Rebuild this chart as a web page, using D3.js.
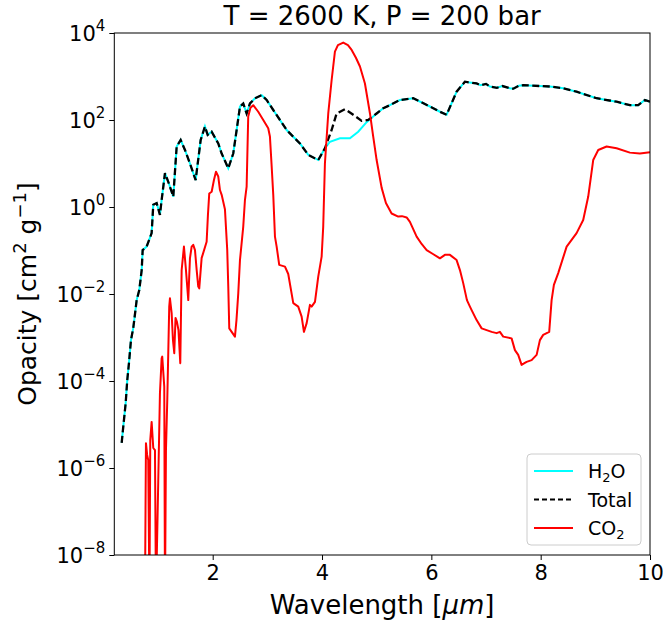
<!DOCTYPE html>
<html lang="en">
<head>
    <meta charset="UTF-8">
    <script src="https://d3js.org/d3.v7.min.js"></script>
    <title>Opacity</title>
    <style>
        body { margin: 0; background: white; }
        text { font-family: "DejaVu Sans", sans-serif; fill: black; }
    </style>
</head>
<body>
    <div class="fig"></div>
    <script>
        // wavelength [um] and log10 opacity [cm2 g-1]
        const h2o = [
            [0.335, -5.42], [0.364, -5.05], [0.408, -4.51], [0.437, -3.98], [0.468, -3.59], [0.505, -3.06],
            [0.547, -2.78], [0.565, -2.60], [0.609, -2.14], [0.657, -1.91], [0.701, -1.45], [0.719, -0.99],
            [0.792, -0.91], [0.883, -0.60], [0.913, 0.05], [0.975, 0.09], [1.035, -0.18], [1.066, 0.16],
            [1.127, 0.78], [1.187, 0.58], [1.279, 0.24], [1.341, 1.39], [1.414, 1.54], [1.493, 1.31],
            [1.584, 1.00], [1.688, 0.62], [1.780, 1.54], [1.858, 1.85], [1.908, 1.66], [1.981, 1.73],
            [2.102, 1.46], [2.164, 1.23], [2.285, 0.89], [2.376, 1.23], [2.438, 1.77], [2.499, 2.31],
            [2.559, 2.38], [2.621, 2.15], [2.682, 2.38], [2.773, 2.50], [2.896, 2.57], [2.987, 2.46],
            [3.108, 2.23], [3.353, 1.77], [3.596, 1.46], [3.748, 1.20], [3.931, 1.08], [4.053, 1.35],
            [4.145, 1.50], [4.328, 1.58], [4.511, 1.58], [4.662, 1.73], [4.816, 1.95], [4.999, 2.15],
            [5.120, 2.27], [5.242, 2.34], [5.425, 2.46], [5.669, 2.50], [5.974, 2.31], [6.157, 2.19],
            [6.279, 2.12], [6.462, 2.65], [6.614, 2.88], [6.828, 2.84], [6.90, 2.80], [7.00, 2.83],
            [7.072, 2.77], [7.20, 2.74], [7.30, 2.78], [7.437, 2.73], [7.50, 2.72], [7.60, 2.79],
            [7.681, 2.80], [8.169, 2.77], [8.412, 2.73], [8.657, 2.65], [9.023, 2.50], [9.389, 2.42],
            [9.632, 2.34], [9.784, 2.34], [9.907, 2.46], [10.0, 2.42]
        ];

        // total differs from water only in the CO2 band near 4.3 um
        const totalBand = [
            [4.176, 1.77], [4.267, 2.15], [4.419, 2.25], [4.571, 2.12], [4.725, 1.98], [4.845, 2.00]
        ];

        const co2 = [
            [0.755, -9], [0.761, -9], [0.779, -5.43], [0.801, -5.70], [0.821, -5.82], [0.843, -9],
            [0.858, -5.36], [0.883, -4.94], [0.913, -5.54], [0.944, -5.59], [0.962, -9], [1.004, -6.31],
            [1.035, -4.28], [1.066, -3.48], [1.077, -3.44], [1.114, -4.13], [1.127, -9], [1.145, -5.59],
            [1.169, -4.44], [1.187, -3.36], [1.205, -2.29], [1.218, -2.10], [1.249, -2.44], [1.273, -3.06],
            [1.297, -3.36], [1.320, -2.55], [1.346, -2.64], [1.374, -2.83], [1.407, -3.59], [1.432, -1.45],
            [1.474, -0.91], [1.511, -1.45], [1.553, -2.14], [1.584, -1.18], [1.615, -0.91], [1.644, -0.87],
            [1.676, -0.99], [1.707, -1.45], [1.736, -1.83], [1.754, -1.87], [1.798, -1.17], [1.816, -1.10],
            [1.889, -0.80], [1.913, -0.18], [1.937, 0.31], [1.981, 0.35], [2.023, 0.62], [2.060, 0.81],
            [2.102, 0.70], [2.133, 0.39], [2.164, 0.28], [2.224, -0.05], [2.266, -0.99], [2.285, -1.83],
            [2.303, -2.79], [2.347, -2.87], [2.407, -2.98], [2.435, -2.60], [2.468, -1.98], [2.499, -1.22],
            [2.559, -0.45], [2.590, 0.16], [2.621, 0.47], [2.636, 1.31], [2.650, 2.08], [2.691, 2.28],
            [2.742, 2.34], [2.833, 2.19], [2.925, 2.00], [3.016, 1.81], [3.047, 1.62], [3.079, 0.93],
            [3.108, 0.28], [3.139, -0.68], [3.170, -0.91], [3.217, -1.33], [3.322, -1.37], [3.382, -1.54],
            [3.474, -2.21], [3.565, -2.29], [3.627, -2.52], [3.669, -2.87], [3.719, -2.67], [3.779, -2.25],
            [3.810, -2.29], [3.871, -2.18], [3.931, -1.60], [3.993, -1.14], [4.022, -0.45], [4.053, 1.00],
            [4.114, 2.15], [4.176, 2.92], [4.236, 3.57], [4.291, 3.72], [4.388, 3.78], [4.474, 3.72],
            [4.542, 3.61], [4.620, 3.43], [4.694, 3.23], [4.785, 2.84], [4.877, 2.15], [4.932, 1.66],
            [4.999, 1.08], [5.091, 0.44], [5.169, 0.09], [5.273, -0.15], [5.394, -0.22], [5.462, -0.21],
            [5.548, -0.24], [5.608, -0.34], [5.731, -0.68], [5.822, -0.85], [5.914, -0.99], [6.029, -1.08],
            [6.157, -1.18], [6.248, -1.10], [6.340, -1.10], [6.462, -1.22], [6.523, -1.45], [6.583, -1.75],
            [6.651, -2.14], [6.706, -2.29], [6.737, -2.37], [6.828, -2.60], [6.920, -2.79], [7.103, -2.87],
            [7.194, -2.90], [7.254, -2.87], [7.315, -2.98], [7.468, -3.02], [7.529, -3.29], [7.589, -3.40],
            [7.651, -3.63], [7.703, -3.59], [7.743, -3.56], [7.834, -3.52], [7.926, -3.40], [7.986, -3.06],
            [8.046, -2.94], [8.156, -2.87], [8.200, -2.14], [8.242, -1.79], [8.321, -1.52], [8.475, -0.91],
            [8.657, -0.60], [8.778, -0.30], [8.870, 0.24], [8.961, 1.08], [9.053, 1.31], [9.206, 1.39],
            [9.389, 1.35], [9.632, 1.25], [9.815, 1.23], [10.0, 1.26]
        ];

        const xTicks = [2, 4, 6, 8, 10];
        const yExponents = [-8, -6, -4, -2, 0, 2, 4];
        // legend labels as [text, subscript, rest]
        const legendNames = [["H", "2", "O"], ["Total", "", ""], ["CO", "2", ""]];

        const total = h2o.filter(d => d[0] < 4.1 || d[0] > 4.9).concat(totalBand)
            .sort((a, b) => a[0] - b[0]);

        const width = 663, height = 624;
        const margin = { left: 114.3, right: 13, top: 33, bottom: 69 };

        const svg = d3.select(".fig").append("svg")
            .attr("width", width)
            .attr("height", height);

        const x = d3.scaleLinear().domain([0.2, 10]).range([margin.left, width - margin.right]);
        const y = d3.scaleLog().domain([1e-8, 1e4]).range([height - margin.bottom, margin.top]);

        svg.append("clipPath").attr("id", "plotclip")
            .append("rect")
            .attr("x", margin.left).attr("y", margin.top)
            .attr("width", x.range()[1] - x.range()[0])
            .attr("height", y.range()[0] - y.range()[1]);

        const line = d3.line()
            .x(d => x(d[0]))
            .y(d => y(Math.pow(10, d[1])));

        const plot = svg.append("g").attr("clip-path", "url(#plotclip)");

        plot.append("path").datum(h2o)
            .attr("d", line).attr("fill", "none")
            .attr("stroke", "#00ffff").attr("stroke-width", 2);
        plot.append("path").datum(total)
            .attr("d", line).attr("fill", "none")
            .attr("stroke", "black").attr("stroke-width", 2.3)
            .attr("stroke-dasharray", "7,3.5");
        plot.append("path").datum(co2)
            .attr("d", line).attr("fill", "none")
            .attr("stroke", "#ff0000").attr("stroke-width", 2)
            .attr("stroke-linejoin", "round");

        // frame
        svg.append("rect")
            .attr("x", margin.left).attr("y", margin.top)
            .attr("width", x.range()[1] - x.range()[0])
            .attr("height", y.range()[0] - y.range()[1])
            .attr("fill", "none").attr("stroke", "black").attr("stroke-width", 1);

        // x axis
        const xAxis = svg.append("g")
            .attr("transform", `translate(0,${height - margin.bottom})`)
            .call(d3.axisBottom(x).tickValues(xTicks).tickSize(5).tickPadding(5).tickFormat(d3.format("d")));
        xAxis.select(".domain").remove();
        xAxis.selectAll("text").style("font-size", "21px").attr("font-family", "DejaVu Sans");

        // y axis
        const yAxis = svg.append("g")
            .attr("transform", `translate(${margin.left},0)`)
            .call(d3.axisLeft(y).tickValues(yExponents.map(e => Math.pow(10, e))).tickSize(5).tickFormat(""));
        yAxis.select(".domain").remove();
        yExponents.forEach(e => {
            const t = svg.append("text")
                .attr("x", margin.left - 9)
                .attr("y", y(Math.pow(10, e)) + 8)
                .attr("text-anchor", "end")
                .style("font-size", "21px");
            t.append("tspan").text("10");
            t.append("tspan").attr("dy", -10).style("font-size", "15px")
                .text(e < 0 ? "\u2212" + Math.abs(e) : String(e));
        });

        // title
        svg.append("text")
            .attr("x", (x.range()[0] + x.range()[1]) / 2)
            .attr("y", 25)
            .attr("text-anchor", "middle")
            .style("font-size", "26px")
            .text("T = 2600 K, P = 200 bar");

        // x label
        const xl = svg.append("text")
            .attr("x", (x.range()[0] + x.range()[1]) / 2)
            .attr("y", 614)
            .attr("text-anchor", "middle")
            .style("font-size", "26px");
        xl.append("tspan").text("Wavelength [");
        xl.append("tspan").style("font-style", "italic").text("\u03bcm");
        xl.append("tspan").text("]");

        // y label
        const yl = svg.append("text")
            .attr("transform", `translate(36,${(y.range()[0] + y.range()[1]) / 2}) rotate(-90)`)
            .attr("text-anchor", "middle")
            .style("font-size", "25px");
        yl.append("tspan").text("Opacity [cm");
        yl.append("tspan").attr("dy", -10).style("font-size", "18px").text("2");
        yl.append("tspan").attr("dy", 10).text(" g");
        yl.append("tspan").attr("dy", -10).style("font-size", "18px").text("\u22121");
        yl.append("tspan").attr("dy", 10).text("]");

        // legend
        const lg = svg.append("g").attr("transform", "translate(527,454)");
        lg.append("rect")
            .attr("width", 114).attr("height", 91).attr("rx", 4)
            .attr("fill", "white").attr("fill-opacity", 0.8)
            .attr("stroke", "#cccccc").attr("stroke-width", 1);
        const legendStyle = [
            { stroke: "#00ffff", dash: null },
            { stroke: "black", dash: "5,3" },
            { stroke: "#ff0000", dash: null }
        ];
        legendNames.forEach((name, i) => {
            const yy = 17 + i * 28.5;
            lg.append("line")
                .attr("x1", 7).attr("x2", 46).attr("y1", yy).attr("y2", yy)
                .attr("stroke", legendStyle[i].stroke).attr("stroke-width", 2)
                .attr("stroke-dasharray", legendStyle[i].dash);
            const t = lg.append("text").attr("x", 61).attr("y", yy + 7).style("font-size", "19px");
            t.append("tspan").text(name[0]);
            if (name[1]) {
                t.append("tspan").attr("dy", 4).style("font-size", "13px").text(name[1]);
                if (name[2]) t.append("tspan").attr("dy", -4).text(name[2]);
            }
        });
    </script>
</body>
</html>
